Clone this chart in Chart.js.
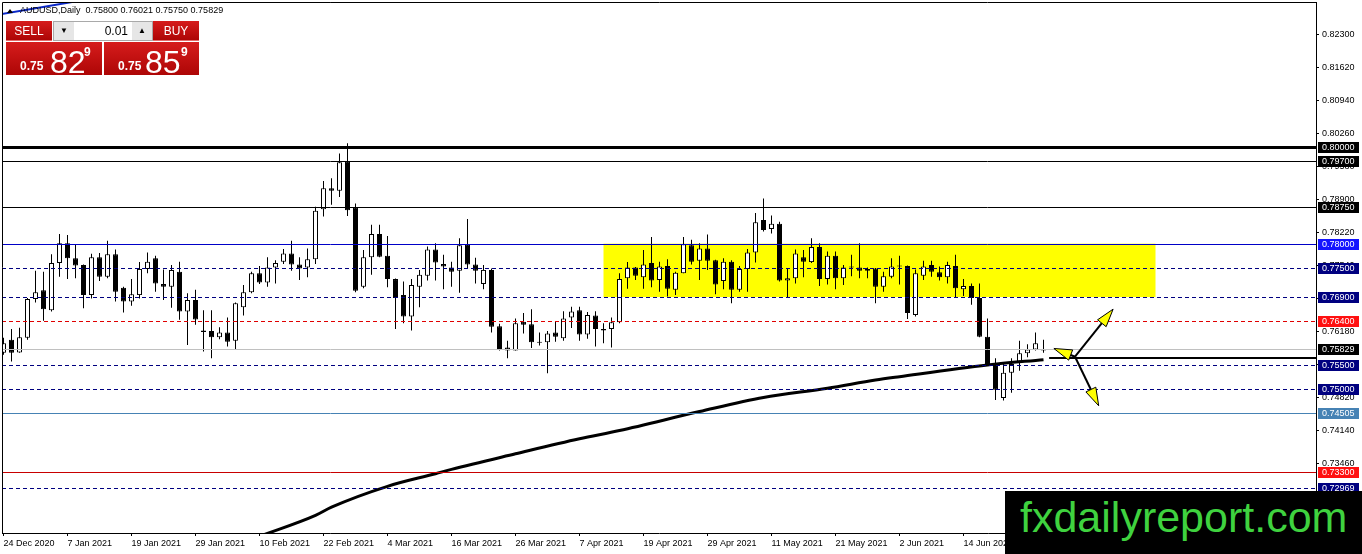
<!DOCTYPE html>
<html>
<head>
<meta charset="utf-8">
<title>AUDUSD, Daily</title>
<script src="https://cdn.jsdelivr.net/npm/chart.js@4.4.1/dist/chart.umd.min.js"></script>
<style>
  html, body { margin: 0; padding: 0; background: #fff; }
  #wrap { position: relative; width: 1362px; height: 554px; overflow: hidden; font-family: "Liberation Sans", Arial, sans-serif; }
  #chart { position: absolute; left: 0; top: 0; }
  #title { position: absolute; left: 20px; top: 4px; font-size: 9px; line-height: 12px; color: #000; white-space: pre; }
  #mark { position: absolute; left: 7px; top: 9px; width: 0; height: 0; border-left: 3px solid transparent; border-right: 3px solid transparent; border-bottom: 4px solid #000; }
  .red { position: absolute; background: linear-gradient(#d61c1c, #ad0606); color: #fff; }
  .btn { text-align: center; font-size: 12px; line-height: 20px; border-bottom: 1px solid #e46a6a; box-sizing: border-box; }
  #lot { position: absolute; left: 53px; top: 21px; width: 100px; height: 20px; background: #e6e6e6; border: 1px solid #a9a9a9; box-sizing: border-box; font-size: 12px; }
  #lot .in { position: absolute; left: 20px; top: 0; width: 58px; height: 18px; background: #fff; text-align: right; line-height: 18px; box-sizing: border-box; padding-right: 4px; color: #000; }
  #lot .ar { position: absolute; top: 0; width: 20px; height: 18px; line-height: 18px; text-align: center; font-size: 8px; color: #000; }
  .price span { position: absolute; white-space: nowrap; }
  .price .s { font-size: 12px; font-weight: bold; top: 17px; }
  .price .b { font-size: 32px; top: 2px; }
  .price .u { font-size: 12px; top: 3px; font-weight: bold; }
  #brand { position: absolute; left: 1005px; top: 491px; width: 357px; height: 63px; background: #000; }
  #brand span { position: absolute; left: 15px; top: 5px; font-size: 43px; line-height: 43px; color: #3fd23f; white-space: nowrap; }
</style>
</head>
<body>
<div id="wrap">
  <canvas id="chart" width="1362" height="554" style="width:1362px;height:554px"></canvas>
  <div id="mark"></div>
  <div id="title">AUDUSD,Daily  0.75800 0.76021 0.75750 0.75829</div>
  <div class="red btn" style="left:6px;top:21px;width:46px;height:20px">SELL</div>
  <div id="lot"><div class="ar" style="left:0">&#9660;</div><div class="in">0.01</div><div class="ar" style="left:78px">&#9650;</div></div>
  <div class="red btn" style="left:153px;top:21px;width:46px;height:20px">BUY</div>
  <div class="red price" style="left:6px;top:42px;width:96px;height:33px">
    <span class="s" style="left:14px">0.75</span><span class="b" style="left:44px">82</span><span class="u" style="left:78px">9</span>
  </div>
  <div class="red price" style="left:104px;top:42px;width:95px;height:33px">
    <span class="s" style="left:14px">0.75</span><span class="b" style="left:41px">85</span><span class="u" style="left:77px">9</span>
  </div>
  <div id="brand"><span>fxdailyreport.com</span></div>
</div>
<script>
// daily AUDUSD candles, 24 Dec 2020 .. 28 Jun 2021
var opens = [
  0.7575, 0.7602, 0.7576, 0.7606, 0.7686, 0.7704, 0.7663, 0.7760, 0.7801, 0.7770,
  0.7756, 0.7694, 0.7772, 0.7732, 0.7778, 0.7709, 0.7681, 0.7694, 0.7748, 0.7770,
  0.7717, 0.7711, 0.7742, 0.7660, 0.7684, 0.7621, 0.7620, 0.7607, 0.7617, 0.7600,
  0.7669, 0.7700, 0.7739, 0.7720, 0.7751, 0.7763, 0.7780, 0.7757, 0.7751, 0.7768,
  0.7871, 0.7914, 0.7909, 0.7969, 0.7875, 0.7711, 0.7772, 0.7820, 0.7775, 0.7727,
  0.7694, 0.7650, 0.7711, 0.7734, 0.7788, 0.7758, 0.7751, 0.7744, 0.7799, 0.7757,
  0.7717, 0.7746, 0.7630, 0.7586, 0.7580, 0.7639, 0.7634, 0.7598, 0.7597, 0.7617,
  0.7605, 0.7648, 0.7663, 0.7613, 0.7652, 0.7624, 0.7624, 0.7638, 0.7729, 0.7751,
  0.7731, 0.7760, 0.7725, 0.7754, 0.7705, 0.7739, 0.7797, 0.7765, 0.7790, 0.7766,
  0.7723, 0.7763, 0.7705, 0.7748, 0.7782, 0.7849, 0.7830, 0.7841, 0.7724, 0.7729,
  0.7772, 0.7762, 0.7793, 0.7727, 0.7775, 0.7729, 0.7751, 0.7751, 0.7744, 0.7749,
  0.7711, 0.7732, 0.7753, 0.7754, 0.7653, 0.7734, 0.7756, 0.7741, 0.7731, 0.7754,
  0.7706, 0.7713, 0.7688, 0.7608, 0.7550, 0.7482, 0.7534, 0.7557, 0.7574, 0.7582,
  0.75800
];
var highs = [
  0.7606, 0.7624, 0.7627, 0.7688, 0.7744, 0.7742, 0.7778, 0.7820, 0.7818, 0.7799,
  0.7757, 0.7779, 0.7781, 0.7806, 0.7788, 0.7711, 0.7727, 0.7762, 0.7782, 0.7775,
  0.7747, 0.7756, 0.7763, 0.7698, 0.7705, 0.7663, 0.7663, 0.7628, 0.7648, 0.7679,
  0.7715, 0.7742, 0.7754, 0.7772, 0.7766, 0.7789, 0.7806, 0.7772, 0.7790, 0.7876,
  0.7929, 0.7935, 0.7986, 0.8007, 0.7883, 0.7787, 0.7839, 0.7839, 0.7816, 0.7728,
  0.7722, 0.7727, 0.7746, 0.7794, 0.7801, 0.7777, 0.7763, 0.7811, 0.7851, 0.7771,
  0.7756, 0.7749, 0.7635, 0.7600, 0.7646, 0.7657, 0.7665, 0.7617, 0.7620, 0.7639,
  0.7661, 0.7670, 0.7670, 0.7659, 0.7661, 0.7636, 0.7648, 0.7739, 0.7762, 0.7752,
  0.7787, 0.7814, 0.7763, 0.7768, 0.7742, 0.7814, 0.7808, 0.7801, 0.7819, 0.7767,
  0.7770, 0.7766, 0.7754, 0.7789, 0.7863, 0.7893, 0.7858, 0.7845, 0.7748, 0.7788,
  0.7787, 0.7811, 0.7801, 0.7784, 0.7784, 0.7756, 0.7777, 0.7801, 0.7751, 0.7750,
  0.7742, 0.7770, 0.7775, 0.7755, 0.7747, 0.7765, 0.7765, 0.7753, 0.7763, 0.7777,
  0.7727, 0.7718, 0.7718, 0.7646, 0.7564, 0.7554, 0.7564, 0.7600, 0.7593, 0.7617,
  0.76021
];
var lows = [
  0.7571, 0.7557, 0.7575, 0.7602, 0.7679, 0.7641, 0.7660, 0.7732, 0.7727, 0.7729,
  0.7667, 0.7687, 0.7723, 0.7729, 0.7681, 0.7658, 0.7672, 0.7687, 0.7739, 0.7701,
  0.7684, 0.7668, 0.7643, 0.7591, 0.7633, 0.7578, 0.7564, 0.7603, 0.7588, 0.7582,
  0.7652, 0.7698, 0.7717, 0.7711, 0.7718, 0.7758, 0.7744, 0.7725, 0.7731, 0.7758,
  0.7856, 0.7880, 0.7896, 0.7857, 0.7700, 0.7708, 0.7736, 0.7772, 0.7710, 0.7624,
  0.7636, 0.7621, 0.7669, 0.7724, 0.7724, 0.7706, 0.7711, 0.7699, 0.7749, 0.7718,
  0.7706, 0.7617, 0.7580, 0.7564, 0.7580, 0.7615, 0.7585, 0.7590, 0.7533, 0.7598,
  0.7600, 0.7626, 0.7600, 0.7604, 0.7588, 0.7595, 0.7586, 0.7636, 0.7707, 0.7725,
  0.7707, 0.7710, 0.7701, 0.7691, 0.7694, 0.7739, 0.7757, 0.7725, 0.7746, 0.7696,
  0.7706, 0.7677, 0.7701, 0.7701, 0.7761, 0.7825, 0.7821, 0.7722, 0.7690, 0.7718,
  0.7731, 0.7760, 0.7713, 0.7716, 0.7706, 0.7715, 0.7733, 0.7729, 0.7729, 0.7677,
  0.7701, 0.7729, 0.7716, 0.7645, 0.7650, 0.7725, 0.7732, 0.7724, 0.7718, 0.7690,
  0.7692, 0.7674, 0.7607, 0.7550, 0.7478, 0.7477, 0.7493, 0.7538, 0.7566, 0.7580,
  0.75750
];
var closes = [
  0.7595, 0.7575, 0.7607, 0.7686, 0.7700, 0.7665, 0.7760, 0.7801, 0.7770, 0.7755,
  0.7694, 0.7772, 0.7732, 0.7778, 0.7701, 0.7681, 0.7696, 0.7748, 0.7763, 0.7718,
  0.7711, 0.7746, 0.7660, 0.7684, 0.7644, 0.7618, 0.7607, 0.7617, 0.7598, 0.7677,
  0.7700, 0.7739, 0.7720, 0.7751, 0.7760, 0.7780, 0.7757, 0.7749, 0.7768, 0.7868,
  0.7914, 0.7909, 0.7968, 0.7869, 0.7703, 0.7772, 0.7820, 0.7773, 0.7727, 0.7688,
  0.7650, 0.7715, 0.7736, 0.7788, 0.7761, 0.7753, 0.7742, 0.7797, 0.7757, 0.7744,
  0.7746, 0.7629, 0.7583, 0.7580, 0.7636, 0.7633, 0.7597, 0.7596, 0.7615, 0.7608,
  0.7646, 0.7660, 0.7613, 0.7653, 0.7624, 0.7621, 0.7638, 0.7727, 0.7751, 0.7734,
  0.7757, 0.7724, 0.7753, 0.7707, 0.7740, 0.7799, 0.7763, 0.7790, 0.7765, 0.7716,
  0.7763, 0.7705, 0.7748, 0.7782, 0.7844, 0.7828, 0.7841, 0.7724, 0.7729, 0.7780,
  0.7763, 0.7793, 0.7727, 0.7775, 0.7729, 0.7751, 0.7752, 0.7744, 0.7748, 0.7711,
  0.7733, 0.7753, 0.7755, 0.7657, 0.7739, 0.7753, 0.7742, 0.7731, 0.7756, 0.7708,
  0.7713, 0.7688, 0.7608, 0.7550, 0.7499, 0.7534, 0.7552, 0.7574, 0.7582, 0.7595,
  0.75829
];

// slow moving average, read at a few bars
var maBars = [32, 39, 41, 48, 54, 56, 64, 72, 77, 87, 95, 103, 109, 112, 123, 130];
var maValues = [0.7197, 0.7240, 0.7257, 0.7300, 0.7326, 0.7335, 0.7367, 0.7398, 0.7415, 0.7454, 0.7483, 0.7502, 0.7519, 0.7526, 0.7550, 0.7561];

// axis ticks
var dateTickBars = [0, 8, 16, 24, 32, 40, 48, 56, 64, 72, 80, 88, 96, 104, 112, 120];
var dateTickLabels = ["24 Dec 2020", "7 Jan 2021", "19 Jan 2021", "29 Jan 2021", "10 Feb 2021", "22 Feb 2021",
  "4 Mar 2021", "16 Mar 2021", "26 Mar 2021", "7 Apr 2021", "19 Apr 2021", "29 Apr 2021",
  "11 May 2021", "21 May 2021", "2 Jun 2021", "14 Jun 2021"];
var priceTicks = [0.8230, 0.8162, 0.8094, 0.8026, 0.7958, 0.7890, 0.7822, 0.7754, 0.7686, 0.7618, 0.7550, 0.7482, 0.7414, 0.7346, 0.7278];

// horizontal levels
var levelPrices = [0.80000, 0.79700, 0.78750, 0.78000, 0.77500, 0.76900, 0.76400, 0.75829, 0.75500, 0.75000, 0.74505, 0.73300, 0.72969];
var zoneBars = [75, 144];
var zonePrices = [0.7690, 0.7800];
var pivot = { x: 133.94, y: 0.7567 };
var arrowTips = [{ x: 138.7, y: 0.7665 }, { x: 136.9, y: 0.7466 }, { x: 131.3, y: 0.7584 }];
var pivotLine = { from: 130.7, price: 0.7565 };
var trendLine = [{ x: -0.23, y: 0.8273 }, { x: 10, y: 0.8302 }];

// styles for the levels, same order as levelPrices
var levelStyle = [
  { c: "#000000", w: 3, d: [], box: "#000000" },
  { c: "#000000", w: 1, d: [], box: "#000000" },
  { c: "#000000", w: 1, d: [], box: "#000000" },
  { c: "#0000c8", w: 1, d: [], box: "#1414ff" },
  { c: "#000080", w: 1, d: [4, 3], box: "#000080" },
  { c: "#000080", w: 1, d: [4, 3], box: "#000080" },
  { c: "#e00000", w: 1, d: [4, 3], box: "#ff1010" },
  { c: "#c0c0c0", w: 1, d: [], box: "#000000" },
  { c: "#000080", w: 1, d: [4, 3], box: "#000080" },
  { c: "#000080", w: 1, d: [4, 3], box: "#000080" },
  { c: "#4682b4", w: 1, d: [], box: "#4682b4" },
  { c: "#c80000", w: 1, d: [], box: "#ff1010" },
  { c: "#000080", w: 1, d: [4, 3], box: "#000080" }
];

var wickData = opens.map(function (o, i) {
  return { x: i, y: [lows[i], highs[i]] };
});
var bodyData = opens.map(function (o, i) {
  return { x: i, y: [Math.min(o, closes[i]), Math.max(o, closes[i])] };
});
var bodyColors = opens.map(function (o, i) {
  return closes[i] >= o ? "#ffffff" : "#000000";
});
var maData = maBars.map(function (b, i) {
  return { x: b, y: maValues[i] };
});

function hline(ctx, x0, x1, y, color, width, dash) {
  ctx.save();
  ctx.strokeStyle = color;
  ctx.lineWidth = width;
  ctx.setLineDash(dash);
  var yy = width % 2 ? Math.round(y) + 0.5 : Math.round(y);
  ctx.beginPath();
  ctx.moveTo(x0, yy);
  ctx.lineTo(x1, yy);
  ctx.stroke();
  ctx.restore();
}

function arrow(ctx, x0, y0, x1, y1) {
  var a = Math.atan2(y1 - y0, x1 - x0);
  var len = 18, half = 5.5;
  var bx = x1 - len * Math.cos(a), by = y1 - len * Math.sin(a);
  ctx.save();
  ctx.strokeStyle = "#000";
  ctx.lineWidth = 2;
  ctx.beginPath();
  ctx.moveTo(x0, y0);
  ctx.lineTo(bx, by);
  ctx.stroke();
  ctx.beginPath();
  ctx.moveTo(x1, y1);
  ctx.lineTo(bx + half * Math.sin(a), by - half * Math.cos(a));
  ctx.lineTo(bx - half * Math.sin(a), by + half * Math.cos(a));
  ctx.closePath();
  ctx.fillStyle = "#ffff00";
  ctx.fill();
  ctx.lineWidth = 1;
  ctx.stroke();
  ctx.restore();
}

var mtPlugin = {
  id: "mtObjects",
  beforeDatasetsDraw: function (chart) {
    var ctx = chart.ctx, xs = chart.scales.x, ys = chart.scales.y, area = chart.chartArea;
    ctx.save();
    ctx.beginPath();
    ctx.rect(area.left, area.top, area.right - area.left, area.bottom - area.top);
    ctx.clip();
    // yellow zone
    var zx0 = xs.getPixelForValue(zoneBars[0]), zx1 = xs.getPixelForValue(zoneBars[1]);
    var zy0 = ys.getPixelForValue(zonePrices[1]), zy1 = ys.getPixelForValue(zonePrices[0]);
    ctx.fillStyle = "#ffff00";
    ctx.fillRect(zx0, zy0, zx1 - zx0, zy1 - zy0);
    ctx.restore();
  },
  afterDatasetsDraw: function (chart) {
    var ctx = chart.ctx, xs = chart.scales.x, ys = chart.scales.y, area = chart.chartArea;
    ctx.save();
    ctx.beginPath();
    ctx.rect(area.left, area.top, area.right - area.left, area.bottom - area.top);
    ctx.clip();
    levelPrices.forEach(function (p, i) {
      var s = levelStyle[i];
      hline(ctx, area.left, area.right, ys.getPixelForValue(p), s.c, s.w, s.d);
    });
    hline(ctx, xs.getPixelForValue(pivotLine.from), area.right, ys.getPixelForValue(pivotLine.price), "#000", 2, []);
    var px = xs.getPixelForValue(pivot.x), py = ys.getPixelForValue(pivot.y);
    arrowTips.forEach(function (t) {
      arrow(ctx, px, py, xs.getPixelForValue(t.x), ys.getPixelForValue(t.y));
    });
    // blue trend line top left
    ctx.strokeStyle = "#0a28c8";
    ctx.lineWidth = 2;
    ctx.beginPath();
    ctx.moveTo(xs.getPixelForValue(trendLine[0].x), ys.getPixelForValue(trendLine[0].y));
    ctx.lineTo(xs.getPixelForValue(trendLine[1].x), ys.getPixelForValue(trendLine[1].y));
    ctx.stroke();
    ctx.restore();
    // frame left and top
    ctx.save();
    ctx.strokeStyle = "#000";
    ctx.lineWidth = 1;
    ctx.beginPath();
    ctx.moveTo(area.left + 0.5, area.bottom);
    ctx.lineTo(area.left + 0.5, area.top + 0.5);
    ctx.lineTo(area.right, area.top + 0.5);
    ctx.stroke();
    ctx.restore();
  },
  afterDraw: function (chart) {
    var ctx = chart.ctx, ys = chart.scales.y, area = chart.chartArea;
    ctx.save();
    ctx.font = "9px 'Liberation Sans', Arial, sans-serif";
    ctx.textBaseline = "middle";
    levelPrices.forEach(function (p, i) {
      var y = Math.round(ys.getPixelForValue(p));
      ctx.fillStyle = levelStyle[i].box;
      ctx.fillRect(area.right + 2, y - 5, 41, 11);
      ctx.fillStyle = "#ffffff";
      ctx.fillText(p.toFixed(5), area.right + 6, y + 0.5);
    });
    ctx.restore();
  }
};

Chart.defaults.font.family = "'Liberation Sans', Arial, sans-serif";
Chart.defaults.font.size = 9;
Chart.defaults.color = "#000";

var chart = new Chart(document.getElementById("chart").getContext("2d"), {
  type: "bar",
  data: {
    datasets: [
      {
        type: "line",
        data: maData,
        borderColor: "#000000",
        borderWidth: 3,
        pointRadius: 0,
        cubicInterpolationMode: "monotone",
        order: 0,
      },
      {
        data: bodyData,
        backgroundColor: bodyColors,
        borderColor: "#000000",
        borderWidth: 1,
        borderSkipped: false,
        barThickness: 5,
        minBarLength: 1,
        grouped: false,
        inflateAmount: 0,
        order: 1,
      },
      {
        data: wickData,
        backgroundColor: "#000000",
        borderWidth: 0,
        barThickness: 1,
        grouped: false,
        inflateAmount: 0,
        order: 2,
      },
    ],
  },
  options: {
    responsive: false,
    animation: false,
    devicePixelRatio: 1,
    layout: { padding: { left: 2, top: 2, right: 0, bottom: 0 } },
    plugins: { legend: { display: false }, tooltip: { enabled: false } },
    scales: {
      x: {
        type: "linear",
        min: -0.1875,
        max: 164.0625,
        offset: false,
        grid: { drawOnChartArea: false, tickLength: 3, color: "#000", offset: false },
        border: { color: "#000" },
        ticks: {
          autoSkip: false,
          maxRotation: 0,
          align: "start",
          padding: 2,
          color: "#000",
          callback: function (v) {
            var k = dateTickBars.indexOf(v);
            return k >= 0 ? dateTickLabels[k] : "";
          },
        },
        afterBuildTicks: function (scale) {
          scale.ticks = dateTickBars.map(function (b) { return { value: b }; });
        },
        afterFit: function (scale) {
          scale.height = 21;
          scale.paddingLeft = 0;
          scale.paddingRight = 0;
        },
      },
      y: {
        position: "right",
        min: 0.72038,
        max: 0.8298,
        grid: { drawOnChartArea: false, tickLength: 3, color: "#000" },
        border: { color: "#000" },
        ticks: {
          padding: 3,
          color: "#000",
          callback: function (v) { return v.toFixed(5); },
        },
        afterBuildTicks: function (scale) {
          scale.ticks = priceTicks.map(function (p) { return { value: p }; });
        },
        afterFit: function (scale) {
          scale.width = 46;
          scale.paddingTop = 0;
          scale.paddingBottom = 0;
        },
      },
    },
  },
  plugins: [mtPlugin],
});
</script>
</body>
</html>
